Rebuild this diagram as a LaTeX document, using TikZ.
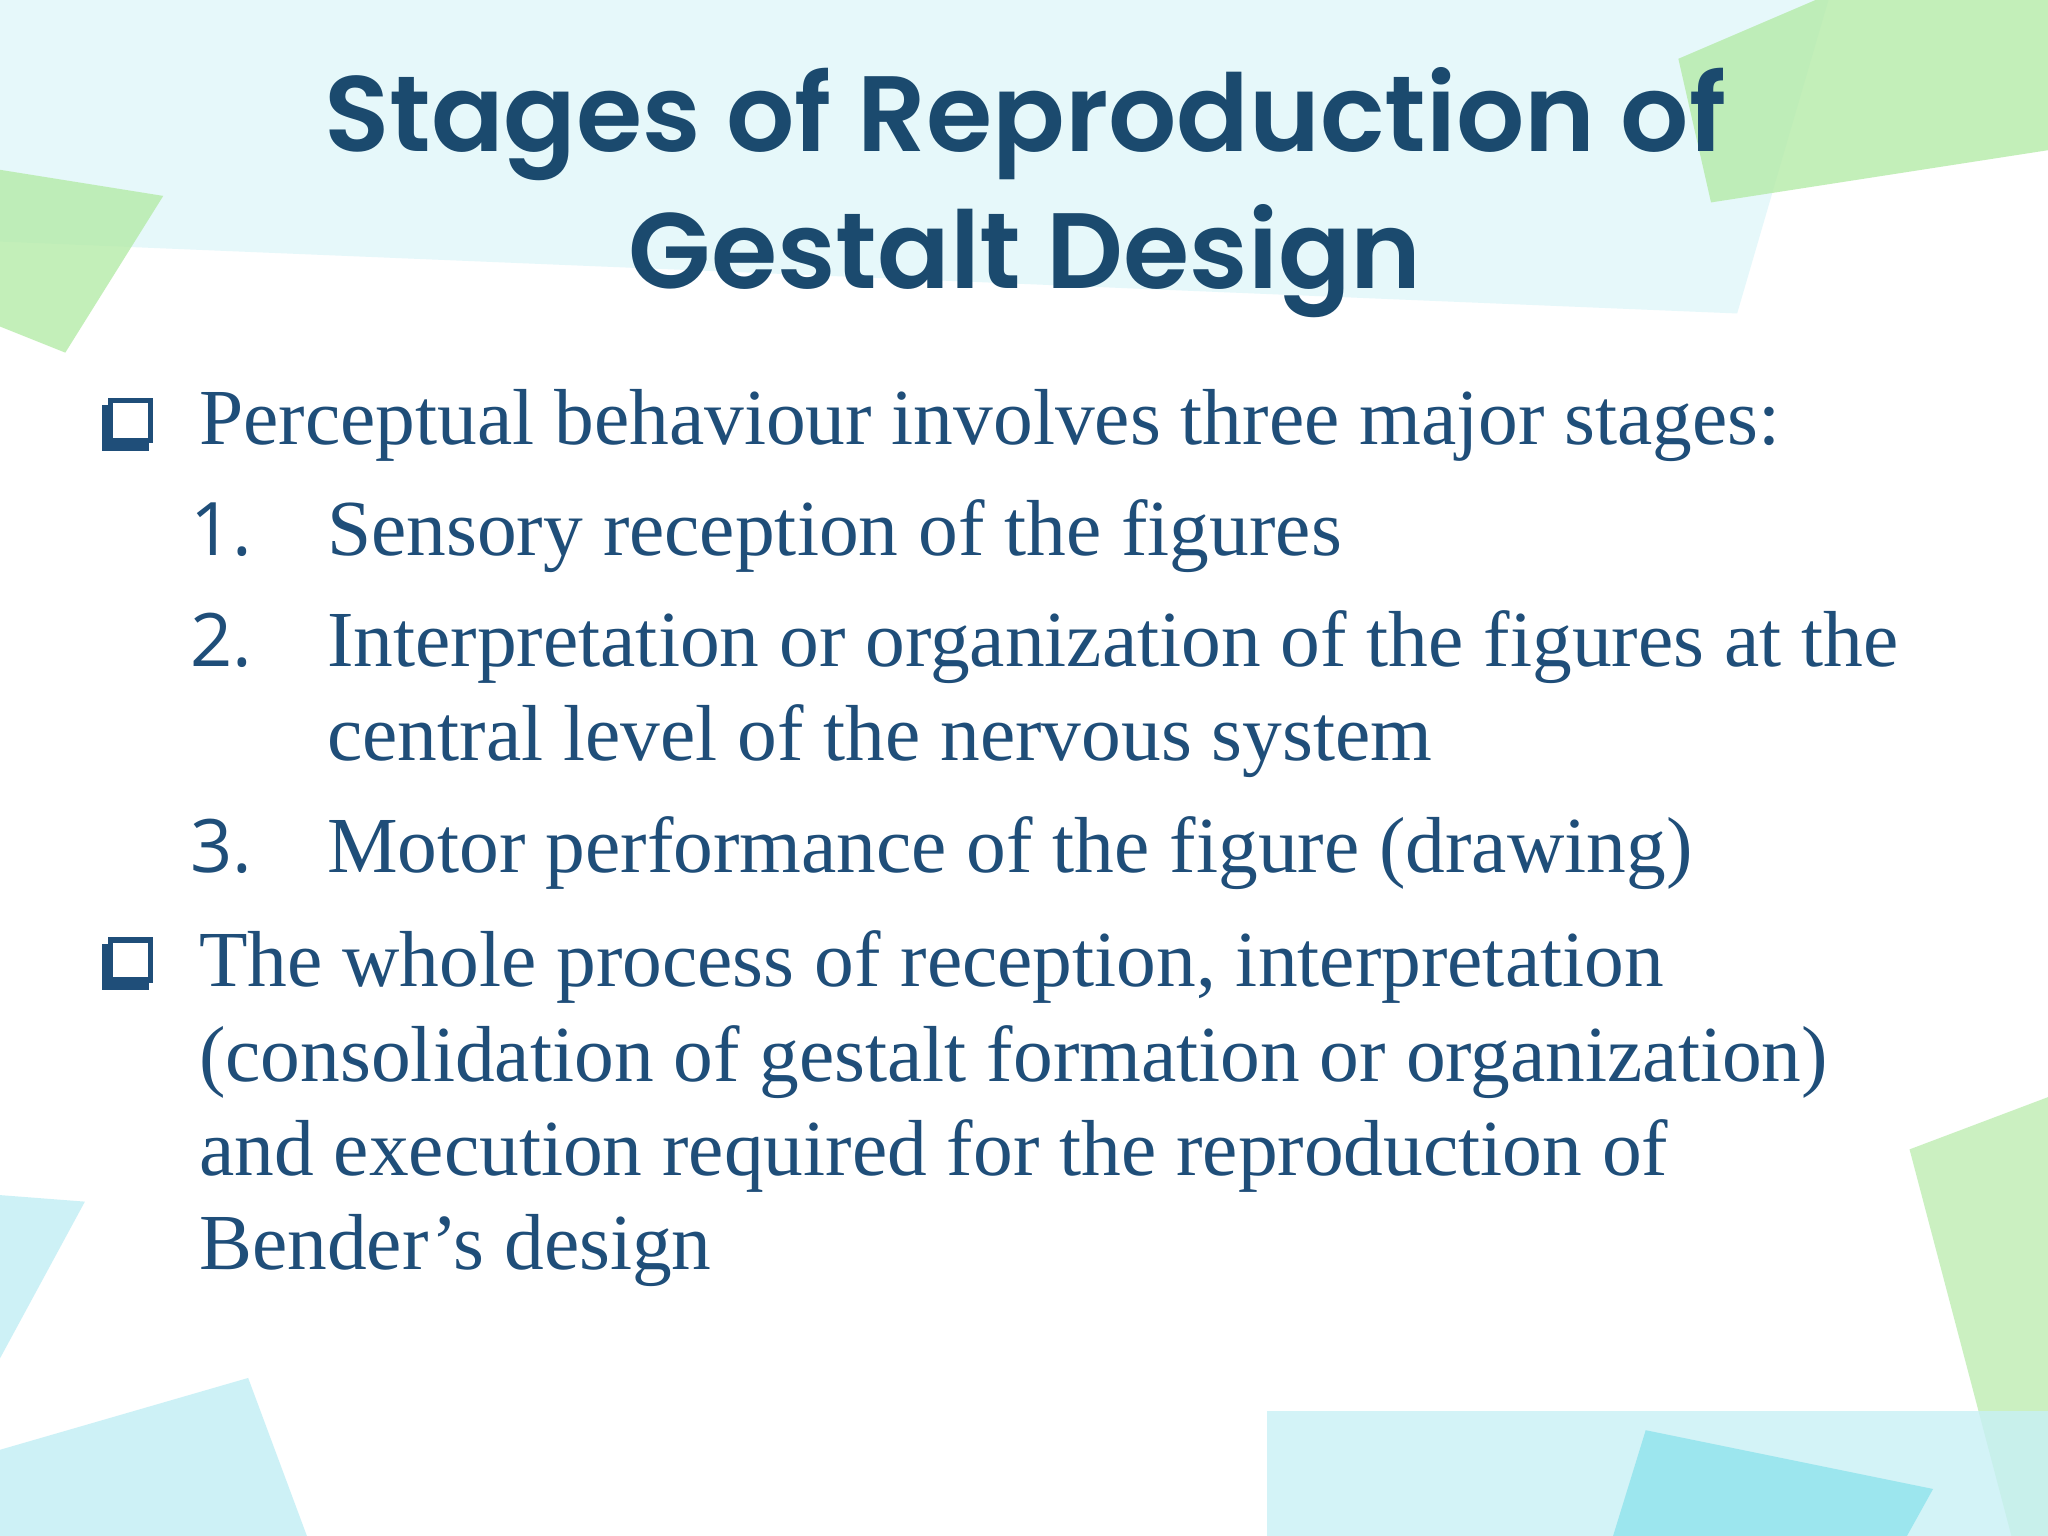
\documentclass[tikz,border=0pt]{standalone}
\usepackage{fontspec}
\setmainfont{Liberation Serif}
\newfontfamily\titlefont{Poppins SemiBold}
\newfontfamily\numfont{Open Sans}
\definecolor{tcol}{HTML}{1B4A6E}
\definecolor{bcol}{HTML}{1F4E79}
\definecolor{cy}{HTML}{C8F0F6}
\definecolor{cy2}{HTML}{8FE3EC}
\definecolor{gr}{HTML}{B5EBA8}
\begin{document}
\begin{tikzpicture}[x=0.013061cm,y=-0.013061cm,
  body/.style={anchor=base west,inner sep=0,text=bcol,font=\fontsize{22.6}{27}\selectfont},
  num/.style={anchor=base west,inner sep=0,text=bcol,font=\numfont\fontsize{21}{25}\selectfont},
  ttl/.style={inner sep=0,text=tcol,font=\titlefont\fontsize{30.5}{36}\selectfont},
  box/.style={draw=bcol,line width=1.5pt,fill=white,minimum size=0.4cm,inner sep=0}]
\useasboundingbox (0,0) rectangle (1568,1176);
\fill[white] (0,0) rectangle (1568,1176);
% background shapes
\fill[cy,opacity=0.45] (0,0) -- (1400,0) -- (1330,240) -- (0,185) -- cycle;
\fill[gr,opacity=0.8] (0,130) -- (125,150) -- (50,270) -- (0,250) -- cycle;
\fill[gr,opacity=0.8] (1285,45) -- (1390,0) -- (1568,0) -- (1568,115) -- (1310,155) -- cycle;
\fill[gr,opacity=0.7] (1462,880) -- (1568,840) -- (1568,1176) -- (1540,1176) -- cycle;
\fill[cy,opacity=0.8] (970,1080) rectangle (1568,1176);
\fill[cy2,opacity=0.8] (1260,1095) -- (1480,1140) -- (1460,1176) -- (1235,1176) -- cycle;
\fill[cy,opacity=0.9] (0,1110) -- (190,1055) -- (235,1176) -- (0,1176) -- cycle;
\fill[cy,opacity=0.9] (0,915) -- (65,920) -- (0,1040) -- cycle;
% title
\node[ttl] (t1) at (785,95) {Stages of Reproduction of};
\node[ttl] (t2) at (785,200) {Gestalt Design};
% bullets
\fill[bcol] (78,310) rectangle (114,345);
\node[box] (b1) at (100,322) {};
\fill[bcol] (78,723) rectangle (114,758);
\node[box] (b2) at (100,735) {};
\node[body] (l1) at (152,340) {Perceptual behaviour involves three major stages:};
\node[num] (n1) at (145,425) {1.};
\node[body] (l2) at (250,425) {Sensory reception of the figures};
\node[num] (n2) at (145,510) {2.};
\node[body] (l3) at (250,510) {Interpretation or organization of the figures at the};
\node[body] (l4) at (250,582) {central level of the nervous system};
\node[num] (n3) at (145,668) {3.};
\node[body] (l5) at (250,668) {Motor performance of the figure (drawing)};
\node[body] (l6) at (152,755) {The whole process of reception, interpretation};
\node[body] (l7) at (152,828) {(consolidation of gestalt formation or organization)};
\node[body] (l8) at (152,900) {and execution required for the reproduction of};
\node[body] (l9) at (152,972) {Bender’s design};
\end{tikzpicture}
\end{document}
